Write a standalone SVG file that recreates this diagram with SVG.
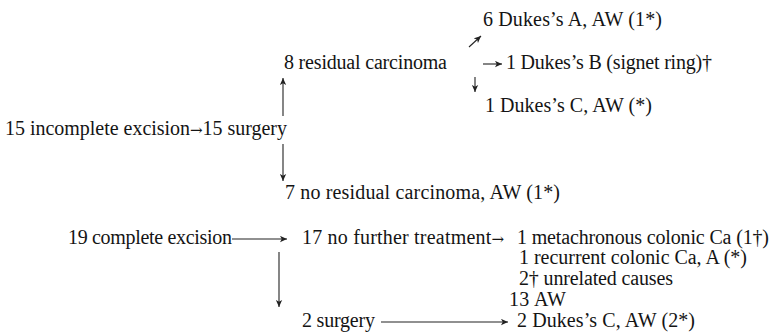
<svg xmlns="http://www.w3.org/2000/svg" width="772" height="333" viewBox="0 0 772 333">
<style>
text{font-family:"Liberation Serif","Times New Roman","DejaVu Serif",serif;font-size:20px;fill:#141414}
.ar{font-family:"DejaVu Serif",serif;font-size:15px}
.c{stroke:#222;stroke-width:1.1;fill:none;marker-end:url(#ah)}
</style>
<defs>
<marker id="ah" viewBox="0 0 10 10" refX="10" refY="5" markerWidth="7" markerHeight="7" orient="auto" markerUnits="userSpaceOnUse">
<path d="M0,0.5 L10,5 L0,9.5 L2.5,5 Z" fill="#222"/>
</marker>
</defs>
<rect width="772" height="333" fill="#fff"/>
<g id="n-dukesA"><text x="483" y="26" textLength="179" lengthAdjust="spacing">6 Dukes’s A, AW (1*)</text></g>
<g id="n-residual"><text x="284" y="69" textLength="163" lengthAdjust="spacing">8 residual carcinoma</text></g>
<g id="n-dukesB"><text x="506" y="69" textLength="206" lengthAdjust="spacing">1 Dukes’s B (signet ring)†</text></g>
<g id="n-dukesC"><text x="485" y="112" textLength="167" lengthAdjust="spacing">1 Dukes’s C, AW (*)</text></g>
<g id="n-incomplete"><text x="5" y="135" textLength="282" lengthAdjust="spacing">15 incomplete excision<tspan class="ar">→</tspan>15 surgery</text></g>
<g id="n-noresidual"><text x="285" y="199" textLength="275" lengthAdjust="spacing">7 no residual carcinoma, AW (1*)</text></g>
<g id="n-complete"><text x="68" y="244" textLength="164" lengthAdjust="spacing">19 complete excision</text></g>
<g id="n-nofurther"><text x="302" y="244" textLength="202" lengthAdjust="spacing">17 no further treatment<tspan class="ar">→</tspan></text></g>
<g id="n-outcomes">
<text x="517" y="244" textLength="252" lengthAdjust="spacing">1 metachronous colonic Ca (1†)</text>
<text x="519" y="264" textLength="228" lengthAdjust="spacing">1 recurrent colonic Ca, A (*)</text>
<text x="519" y="285" textLength="154" lengthAdjust="spacing">2† unrelated causes</text>
<text x="509" y="306" textLength="57" lengthAdjust="spacing">13 AW</text>
</g>
<g id="n-surgery2"><text x="302" y="327" textLength="73" lengthAdjust="spacing">2 surgery</text></g>
<g id="n-dukesC2"><text x="517" y="327" textLength="178" lengthAdjust="spacing">2 Dukes’s C, AW (2*)</text></g>
<g id="connectors">
<line class="c" x1="283" y1="116" x2="283" y2="78"/>
<line class="c" x1="283" y1="144" x2="283" y2="181"/>
<line class="c" x1="469" y1="47" x2="481" y2="36"/>
<line class="c" x1="483" y1="64" x2="502" y2="64"/>
<line class="c" x1="475" y1="77" x2="475" y2="92"/>
<line class="c" x1="232" y1="239" x2="287" y2="239"/>
<line class="c" x1="279" y1="252" x2="279" y2="307"/>
<line class="c" x1="381" y1="322" x2="508" y2="322"/>
</g>
</svg>
